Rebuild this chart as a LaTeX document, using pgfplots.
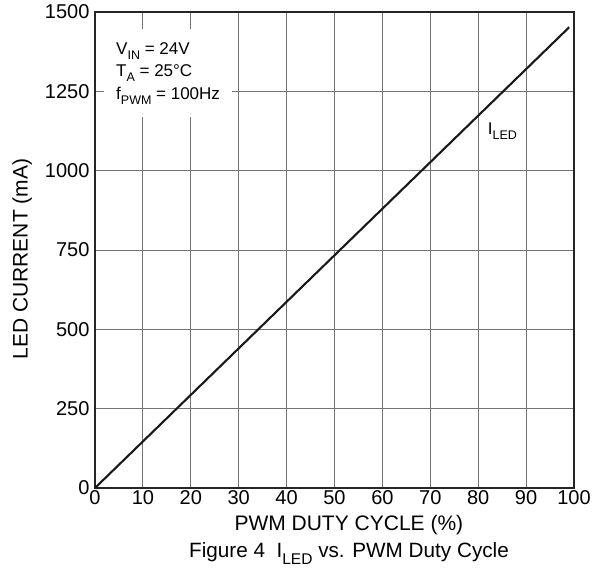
\documentclass[border=0pt]{standalone}
\usepackage{pgfplots}
\pgfplotsset{compat=1.18}
\usepackage{fontspec}
\setmainfont{Liberation Sans}
\begin{document}
\begin{tikzpicture}[x=1pt,y=1pt]
\path[use as bounding box] (0,0) rectangle (600,569);
\begin{axis}[
  at={(95pt,81pt)}, anchor=south west,
  scale only axis, width=479pt, height=476pt,
  xmin=0, xmax=100, ymin=0, ymax=1500,
  xtick={0,10,...,100}, ytick={0,250,...,1500},
  grid=major,
  major grid style={draw=black!55, line width=0.9pt},
  axis line style={draw=black!85, line width=1.1pt},
  major tick length=0pt,
  tick label style={font=\fontsize{20}{22}\selectfont},
  /pgf/number format/assume math mode=true,
  /pgf/number format/1000 sep={},
  xticklabel style={yshift=1pt},
  yticklabel style={xshift=-2pt},
  xlabel={PWM DUTY CYCLE (\%)},
  ylabel={LED CURRENT (mA)},
  label style={font=\fontsize{21}{23}\selectfont},
  xlabel style={at={(axis description cs:0.53,-0.078)}, anchor=center},
  ylabel style={at={(axis description cs:-0.152,0.481)}, anchor=center},
  clip=false,
]
\addplot[black!90, line width=2.1pt] coordinates {(0,0) (99,1452)};
\node[fill=white, anchor=north west, align=left, inner xsep=12pt, inner ysep=13pt,
  font=\fontsize{17}{22.5}\selectfont] at (axis cs:1.88,1446)
  {V\raisebox{-0.3em}{\fontsize{12.5}{12.5}\selectfont IN} = 24V\\
   T\raisebox{-0.3em}{\fontsize{12.5}{12.5}\selectfont A} = 25°C\\
   f\raisebox{-0.3em}{\fontsize{12.5}{12.5}\selectfont PWM} = 100Hz};
\node[anchor=base west, inner sep=0pt, font=\fontsize{17}{20}\selectfont] at (axis cs:82.0,1115)
  {I\raisebox{-0.3em}{\fontsize{12.5}{12.5}\selectfont LED}};
\end{axis}
\node[anchor=base, inner sep=0pt, font=\fontsize{20.7}{23}\selectfont] at (349,11)
  {Figure 4\ \ I\raisebox{-0.3em}{\fontsize{15.5}{15.5}\selectfont LED} vs. PWM Duty Cycle};
\end{tikzpicture}
\end{document}
